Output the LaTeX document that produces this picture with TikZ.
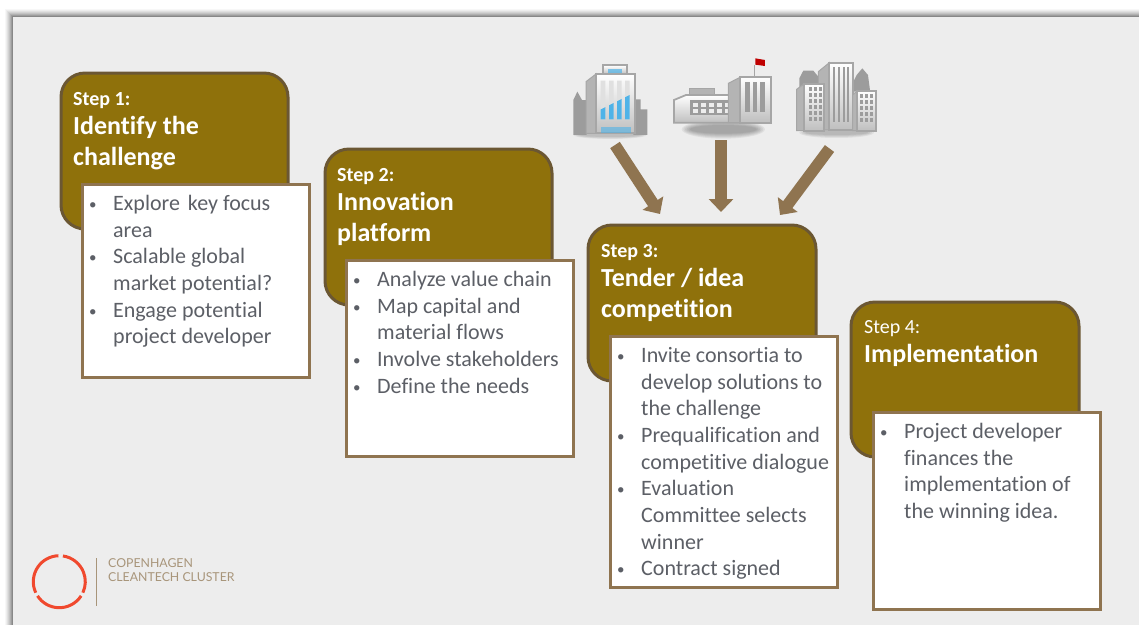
\documentclass[tikz,border=0pt]{standalone}
\usepackage{fontspec}
\setmainfont{Carlito}[Ligatures=NoCommon]
\newfontfamily\logofont{Lato}
\usetikzlibrary{arrows.meta}
\definecolor{sheet}{HTML}{EDEDED}
\definecolor{olive}{HTML}{8F710B}
\definecolor{oliveedge}{HTML}{6B5733}
\definecolor{tan}{HTML}{8F7450}
\definecolor{bodytext}{HTML}{5C5F66}
\definecolor{logored}{HTML}{F0492E}
\definecolor{logotan}{HTML}{A8957A}
\definecolor{bgrey}{HTML}{9C9C9C}
\definecolor{bmid}{HTML}{B4B4B4}
\definecolor{bedge}{HTML}{A6A6A6}
\definecolor{bglass}{HTML}{4FB3E8}
\newcommand{\bul}{\makebox[28pt][l]{\hspace{4pt}\raisebox{1pt}{\fontsize{15}{15}\selectfont •}}}
\newcommand{\cont}{\hspace*{28pt}}
\newcommand{\stepline}[1]{{\fontsize{20}{31}\selectfont #1}}
\tikzset{
  x=1pt,y=-1pt,
  headbox/.style={draw=oliveedge,line width=3pt,fill=olive,rounded corners=24pt},
  bodybox/.style={draw=tan,line width=3pt,fill=white},
  headtext/.style={anchor=north west,inner sep=0pt,align=left,text=white,font=\bfseries\fontsize{26}{31}\selectfont},
  bodytextnode/.style={anchor=north west,inner sep=0pt,align=left,text=bodytext,font=\fontsize{22}{26.7}\selectfont},
  fatarrow/.style={draw=tan,line width=11.5pt,-{Triangle[width=24pt,length=13pt]}},
  wall/.style={top color=white,bottom color=black!25,draw=bedge,line width=1.8pt},
  side/.style={fill=bmid,draw=bedge,line width=1pt},
  sky/.style={fill=bgrey,draw=none},
  slit/.style={fill=bgrey,draw=none},
  glass/.style={fill=bglass,draw=none},
  logoarc/.style={draw=logored,line width=3pt},
  logotext/.style={anchor=base west,inner sep=0pt,text=logotan,font=\logofont\fontsize{12.3}{12.3}\selectfont},
}
\begin{document}
\begin{tikzpicture}
\useasboundingbox (0,0) rectangle (1139,625);
\fill[white] (0,0) rectangle (1139,625);
% sheet with soft shadow
\foreach \d/\o in {8/0.03,7/0.04,6/0.05,5/0.06,4/0.07,3/0.09,2/0.11,1/0.13}{
  \fill[black,opacity=\o] (13-\d,17-\d) rectangle (1139,625);
}
\fill[sheet] (13,17) rectangle (1139,625);

% step boxes
\draw[headbox] (61,73) rectangle (288,229);
\draw[headbox] (325,149) rectangle (552,305);
\draw[headbox] (588,225) rectangle (816,381);
\draw[headbox] (851,302) rectangle (1079,457);

\draw[bodybox] (82,184) rectangle (309,377);
\draw[bodybox] (346,260) rectangle (573,456);
\draw[bodybox] (610,336) rectangle (837,587);
\draw[bodybox] (873,412) rectangle (1100,609);

% head texts
\node[headtext] (h1) at (73,92) {\stepline{Step 1:}\\[-2pt]Identify the\\challenge};
\node[headtext] (h2) at (337,168) {\stepline{Step 2:}\\[-2pt]Innovation\\platform};
\node[headtext] (h3) at (601,244) {\stepline{Step 3:}\\[-2pt]Tender / idea\\competition};
\node[headtext] (h4) at (864,320) {{\mdseries\stepline{Step 4:}}\\[-2pt]Implementation};

% body texts
\node[bodytextnode] (t1) at (85,195) {\bul Explore\hspace{3pt} key focus\\\cont area\\\bul Scalable global\\\cont market potential?\\\bul Engage potential\\\cont project developer};
\node[bodytextnode] (t2) at (349,271) {\bul Analyze value chain\\\bul Map capital and\\\cont material flows\\\bul Involve stakeholders\\\bul Define the needs};
\node[bodytextnode] (t3) at (613,347) {\bul Invite consortia to\\\cont develop solutions to\\\cont the challenge\\\bul Prequalification and\\\cont competitive dialogue\\\bul Evaluation\\\cont Committee selects\\\cont winner\\\bul Contract signed};
\node[bodytextnode] (t4) at (876,423) {\bul Project developer\\\cont finances the\\\cont implementation of\\\cont the winning idea.};

% buildings (reference crop coordinates, one third scale)
\begin{scope}[shift={(560,50)},x=0.3333pt,y=-0.3333pt]
  % building 1
  \foreach \k in {0,1,2,3}{\fill[black,opacity=0.05] (150,255) ellipse [x radius=110-6*\k,y radius=12-2*\k];}
  \fill[sky] (40,255) -- (40,150) -- (52,125) -- (66,150) -- (80,150) -- (80,255) -- cycle;
  \fill[sky] (220,255) -- (220,148) -- (242,148) -- (242,178) -- (262,178) -- (262,255) -- cycle;
  \draw[side] (78,250) -- (78,95) -- (108,72) -- (108,250) -- cycle;
  \draw[wall] (130,72) -- (130,46) -- (200,46) -- (200,72) -- cycle;
  \fill[glass,opacity=.7] (145,57) rectangle (185,68);
  \draw[wall] (108,72) rectangle (225,250);
  \begin{scope}
    \clip (122,92) rectangle (136,208) (147,92) rectangle (161,208) (171,92) rectangle (185,208) (195,92) rectangle (209,208);
    \fill[black!12] (115,85) rectangle (215,215);
    \fill[glass] (115,182) -- (215,132) -- (215,215) -- (115,215) -- cycle;
  \end{scope}
  \fill[glass,opacity=.6] (122,231) rectangle (212,248);
  % building 2
  \foreach \k in {0,1,2,3,4,5}{\fill[black,opacity=0.055] (490,238) ellipse [x radius=125-5*\k,y radius=28-3*\k];}
  \draw[bedge,line width=1.5pt] (583,78) -- (583,45);
  \fill[red!75!black] (586,25) -- (615,30) -- (615,48) -- (586,44) -- cycle;
  \draw[side] (390,135) -- (390,116) -- (464,116) -- (464,135) -- cycle;
  \draw[wall] (342,218) -- (342,150) -- (378,135) -- (535,135) -- (535,218) -- cycle;
  \fill[slit] (390,150) rectangle (525,195);
  \foreach \x in {398,422,446,470,494}{
    \fill[white!93!black] (\x,158) rectangle ++(16,12);
    \fill[white!93!black] (\x,176) rectangle ++(16,12);
  }
  \draw[side] (505,218) -- (505,100) -- (540,82) -- (540,218) -- cycle;
  \draw[wall] (540,80) rectangle (633,218);
  \fill[slit] (555,97) rectangle (569,187);
  \fill[slit] (578,97) rectangle (592,187);
  \fill[slit] (601,97) rectangle (615,187);
  % building 3
  \foreach \k in {0,1,2,3}{\fill[black,opacity=0.06] (830,248) ellipse [x radius=112-6*\k,y radius=16-3*\k];}
  \fill[sky] (718,120) -- (718,85) -- (730,62) -- (760,62) -- (775,80) -- (775,130) -- cycle;
  \fill[sky] (880,125) -- (880,95) -- (890,75) -- (907,55) -- (924,75) -- (930,120) -- cycle;
  \draw[side] (775,240) -- (775,65) -- (808,38) -- (808,240) -- cycle;
  \draw[wall] (808,38) rectangle (878,240);
  \foreach \x in {820,834,848,862}{\fill[slit] (\x,50) rectangle ++(6,165);}
  \draw[side] (710,242) -- (710,118) -- (732,102) -- (732,242) -- cycle;
  \draw[wall] (732,102) rectangle (792,242);
  \foreach \x in {748,763,778}{\foreach \y in {112,130,148,166,184,202}{
    \fill[bgrey] (\x-2,\y) rectangle ++(9,12);}}
  \draw[side] (878,242) -- (878,135) -- (892,122) -- (892,242) -- cycle;
  \draw[wall] (892,122) rectangle (948,242);
  \foreach \x in {901,917,933}{\foreach \y in {132,150,168,186,204}{
    \fill[bgrey] (\x-2,\y) rectangle ++(9,12);}}
\end{scope}

% arrows
\coordinate (bldA) at (615,145);
\coordinate (bldB) at (721,140);
\coordinate (bldC) at (829.5,148.5);
\coordinate (tgtA) at (660,214);
\coordinate (tgtB) at (721,212);
\coordinate (tgtC) at (780,215);
\draw[fatarrow] (bldA) -- (tgtA);
\draw[fatarrow] (bldB) -- (tgtB);
\draw[fatarrow] (bldC) -- (tgtC);

% logo
\begin{scope}[shift={(59.3,581.7)},x=1pt,y=1pt]
  \draw[logoarc] (82:26) arc[start angle=82,end angle=-25,radius=26pt];
  \draw[logoarc] (-33:26) arc[start angle=-33,end angle=-147,radius=26pt];
  \draw[logoarc] (-155:26) arc[start angle=-155,end angle=-268,radius=26pt];
\end{scope}
\coordinate (ringl) at (96,558);
\coordinate (ringm) at (96,606);
\draw[logotan,line width=1pt] (ringl) -- (ringm);
\node[logotext] (logoa) at (108,567) {COPENHAGEN};
\node[logotext] (logob) at (108,581) {CLEANTECH CLUSTER};
\end{tikzpicture}
\end{document}
